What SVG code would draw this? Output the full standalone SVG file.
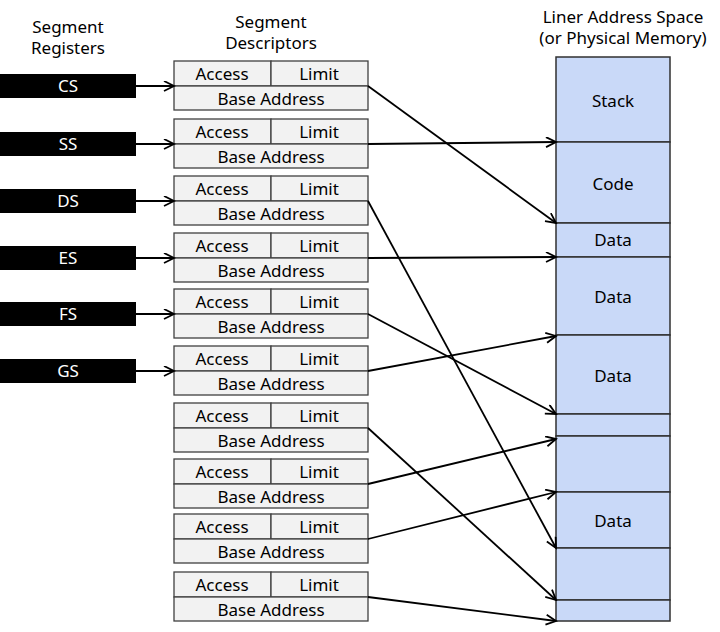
<svg xmlns="http://www.w3.org/2000/svg" width="720" height="632" viewBox="0 0 720 632">
<style>
text{font-family:"Noto Sans","Open Sans","DejaVu Sans",sans-serif;font-size:17px;fill:#000;text-anchor:middle}
.reg rect{fill:#000}
.reg text{fill:#fff}
.desc rect{fill:#f2f2f2;stroke:#404040;stroke-width:1.3}
.mem rect{fill:#c9d9f8;stroke:#303030;stroke-width:1.5}
.conn line{stroke:#000;stroke-width:1.8;fill:none}
</style>
<defs>
<marker id="ah" markerWidth="13" markerHeight="13" refX="11" refY="5.5" orient="auto" markerUnits="userSpaceOnUse">
<path d="M1,0.5 L11,5.5 L1,10.5" fill="none" stroke="#000" stroke-width="1.8"/>
</marker>
</defs>
<rect width="720" height="632" fill="#fff"/>
<g id="headers">
<text x="68" y="33">Segment</text>
<text x="68" y="54">Registers</text>
<text x="271" y="28">Segment</text>
<text x="271" y="49">Descriptors</text>
<text x="623" y="23">Liner Address Space</text>
<text x="623" y="44">(or Physical Memory)</text>
</g>
<g id="registers" class="reg">
<g id="reg-cs"><rect x="0" y="74" width="136" height="24"/><text x="68" y="92">CS</text></g>
<g id="reg-ss"><rect x="0" y="132" width="136" height="24"/><text x="68" y="150">SS</text></g>
<g id="reg-ds"><rect x="0" y="189" width="136" height="24"/><text x="68" y="207">DS</text></g>
<g id="reg-es"><rect x="0" y="246" width="136" height="24"/><text x="68" y="264">ES</text></g>
<g id="reg-fs"><rect x="0" y="302" width="136" height="24"/><text x="68" y="320">FS</text></g>
<g id="reg-gs"><rect x="0" y="359" width="136" height="24"/><text x="68" y="377">GS</text></g>
</g>
<g id="descriptors" class="desc">
<g id="desc1" transform="translate(0,61)"><rect x="174" y="0" width="97" height="25"/><rect x="271" y="0" width="97" height="25"/><rect x="174" y="25" width="194" height="24"/><text x="222" y="19">Access</text><text x="319" y="19">Limit</text><text x="271" y="44">Base Address</text></g>
<g id="desc2" transform="translate(0,119)"><rect x="174" y="0" width="97" height="25"/><rect x="271" y="0" width="97" height="25"/><rect x="174" y="25" width="194" height="24"/><text x="222" y="19">Access</text><text x="319" y="19">Limit</text><text x="271" y="44">Base Address</text></g>
<g id="desc3" transform="translate(0,176)"><rect x="174" y="0" width="97" height="25"/><rect x="271" y="0" width="97" height="25"/><rect x="174" y="25" width="194" height="24"/><text x="222" y="19">Access</text><text x="319" y="19">Limit</text><text x="271" y="44">Base Address</text></g>
<g id="desc4" transform="translate(0,233)"><rect x="174" y="0" width="97" height="25"/><rect x="271" y="0" width="97" height="25"/><rect x="174" y="25" width="194" height="24"/><text x="222" y="19">Access</text><text x="319" y="19">Limit</text><text x="271" y="44">Base Address</text></g>
<g id="desc5" transform="translate(0,289)"><rect x="174" y="0" width="97" height="25"/><rect x="271" y="0" width="97" height="25"/><rect x="174" y="25" width="194" height="24"/><text x="222" y="19">Access</text><text x="319" y="19">Limit</text><text x="271" y="44">Base Address</text></g>
<g id="desc6" transform="translate(0,346)"><rect x="174" y="0" width="97" height="25"/><rect x="271" y="0" width="97" height="25"/><rect x="174" y="25" width="194" height="24"/><text x="222" y="19">Access</text><text x="319" y="19">Limit</text><text x="271" y="44">Base Address</text></g>
<g id="desc7" transform="translate(0,403)"><rect x="174" y="0" width="97" height="25"/><rect x="271" y="0" width="97" height="25"/><rect x="174" y="25" width="194" height="24"/><text x="222" y="19">Access</text><text x="319" y="19">Limit</text><text x="271" y="44">Base Address</text></g>
<g id="desc8" transform="translate(0,459)"><rect x="174" y="0" width="97" height="25"/><rect x="271" y="0" width="97" height="25"/><rect x="174" y="25" width="194" height="24"/><text x="222" y="19">Access</text><text x="319" y="19">Limit</text><text x="271" y="44">Base Address</text></g>
<g id="desc9" transform="translate(0,514)"><rect x="174" y="0" width="97" height="25"/><rect x="271" y="0" width="97" height="25"/><rect x="174" y="25" width="194" height="24"/><text x="222" y="19">Access</text><text x="319" y="19">Limit</text><text x="271" y="44">Base Address</text></g>
<g id="desc10" transform="translate(0,572)"><rect x="174" y="0" width="97" height="25"/><rect x="271" y="0" width="97" height="25"/><rect x="174" y="25" width="194" height="24"/><text x="222" y="19">Access</text><text x="319" y="19">Limit</text><text x="271" y="44">Base Address</text></g>
</g>
<g id="memory" class="mem">
<g id="mem-stack"><rect x="556" y="57" width="114" height="85"/><text x="613" y="107">Stack</text></g>
<g id="mem-code"><rect x="556" y="142" width="114" height="81"/><text x="613" y="190">Code</text></g>
<g id="mem-data1"><rect x="556" y="223" width="114" height="34"/><text x="613" y="246">Data</text></g>
<g id="mem-data2"><rect x="556" y="257" width="114" height="78"/><text x="613" y="303">Data</text></g>
<g id="mem-data3"><rect x="556" y="335" width="114" height="79"/><text x="613" y="382">Data</text></g>
<g id="mem-seg6"><rect x="556" y="414" width="114" height="22"/></g>
<g id="mem-seg7"><rect x="556" y="436" width="114" height="56"/></g>
<g id="mem-data4"><rect x="556" y="492" width="114" height="56"/><text x="613" y="527">Data</text></g>
<g id="mem-seg9"><rect x="556" y="548" width="114" height="52"/></g>
<g id="mem-seg10"><rect x="556" y="600" width="114" height="21"/></g>
</g>
<g id="connectors" class="conn">
<line x1="136" y1="86" x2="174" y2="86" marker-end="url(#ah)"/>
<line x1="136" y1="144" x2="174" y2="144" marker-end="url(#ah)"/>
<line x1="136" y1="201" x2="174" y2="201" marker-end="url(#ah)"/>
<line x1="136" y1="258" x2="174" y2="258" marker-end="url(#ah)"/>
<line x1="136" y1="314" x2="174" y2="314" marker-end="url(#ah)"/>
<line x1="136" y1="371" x2="174" y2="371" marker-end="url(#ah)"/>
<line x1="368" y1="86" x2="556" y2="223" marker-end="url(#ah)"/>
<line x1="368" y1="144" x2="556" y2="142" marker-end="url(#ah)"/>
<line x1="368" y1="201" x2="556" y2="548" marker-end="url(#ah)"/>
<line x1="368" y1="258" x2="556" y2="257" marker-end="url(#ah)"/>
<line x1="368" y1="314" x2="556" y2="414" marker-end="url(#ah)"/>
<line x1="368" y1="371" x2="556" y2="336" marker-end="url(#ah)"/>
<line x1="368" y1="428" x2="556" y2="600" marker-end="url(#ah)"/>
<line x1="368" y1="484" x2="556" y2="439" marker-end="url(#ah)"/>
<line x1="368" y1="539" x2="556" y2="492" marker-end="url(#ah)"/>
<line x1="368" y1="597" x2="556" y2="621" marker-end="url(#ah)"/>
</g>
</svg>
